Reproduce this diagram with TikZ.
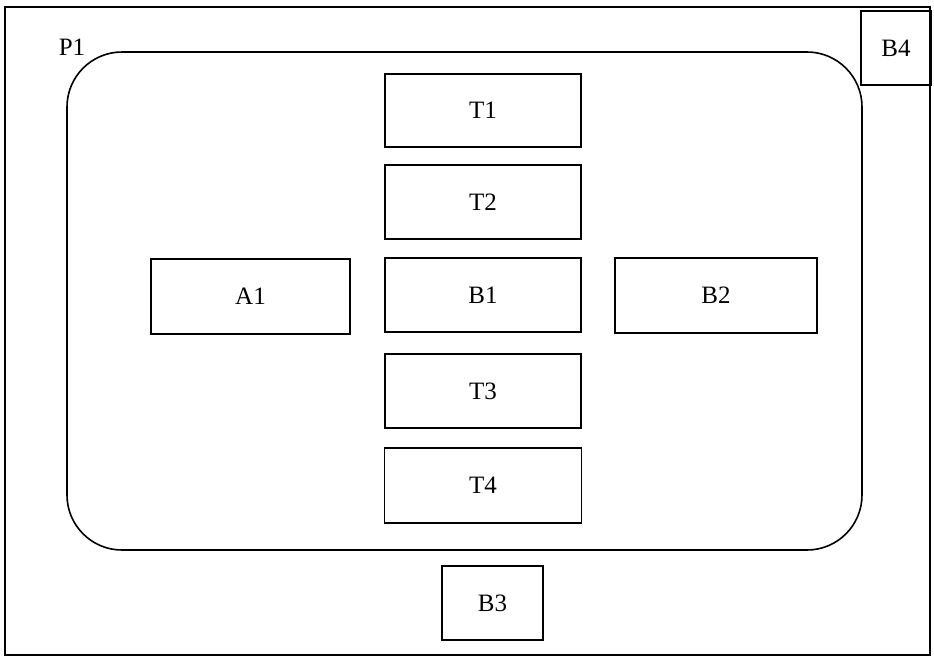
\documentclass[tikz,border=0pt]{standalone}
\usepackage{fontspec}
\setmainfont{Liberation Serif}
\begin{document}
\begin{tikzpicture}[x=1pt,y=-1pt,
  box/.style={draw, line width=1.5pt, inner sep=0pt, font=\fontsize{25}{28}\selectfont},
  lbl/.style={inner sep=0pt, font=\fontsize{25}{28}\selectfont}]
\useasboundingbox (0,0) rectangle (934,656);
% outer frame
\node[draw, line width=1.8pt, inner sep=0pt, minimum width=925pt, minimum height=648pt] (frame) at (467.5,331) {};
% P1 rounded region
\node[draw, line width=1.6pt, inner sep=0pt, rounded corners=55pt, minimum width=795pt, minimum height=498pt] (p1area) at (464.5,301) {};
\node[lbl] (p1) at (72,47) {P1};
% boxes
\node[box, minimum width=196pt, minimum height=73pt] (t1) at (483,110.5) {T1};
\node[box, minimum width=196pt, minimum height=74pt] (t2) at (483,202) {T2};
\node[box, minimum width=196pt, minimum height=74pt] (b1) at (483,295) {B1};
\node[box, minimum width=196pt, minimum height=74pt] (t3) at (483,391) {T3};
\node[box, minimum width=197pt, minimum height=75pt] (t4) at (483,485.5) {T4};
\node[box, minimum width=199pt, minimum height=75pt] (a1) at (250.5,296.5) {A1};
\node[box, minimum width=202pt, minimum height=75pt] (b2) at (716,295.5) {B2};
\node[box, minimum width=101pt, minimum height=74pt] (b3) at (492.5,603) {B3};
\node[box, minimum width=70pt, minimum height=74pt] (b4) at (896,48) {B4};
\end{tikzpicture}
\end{document}
